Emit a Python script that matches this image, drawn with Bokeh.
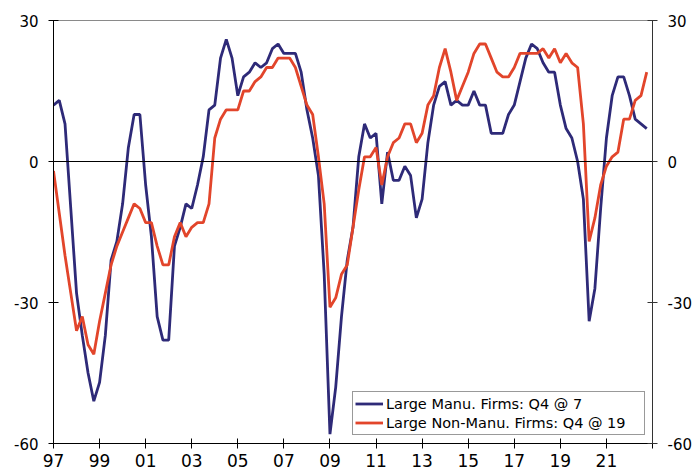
from bokeh.plotting import figure
from bokeh.models import LinearAxis, FixedTicker, Span, Legend, LegendItem, Range1d
from bokeh.embed import file_html
from bokeh.resources import INLINE

# ---- data: Tankan business conditions DI, quarterly (Q1..Q4 per year) ----
start_year = 1997
manu = [
    12, 13, 8, -10,      # 1997
    -28, -37, -45, -51,  # 1998
    -47, -37, -21, -17,  # 1999
    -9, 3, 10, 10,       # 2000
    -5, -16, -33, -38,   # 2001
    -38, -18, -14, -9,   # 2002
    -10, -5, 1, 11,      # 2003
    12, 22, 26, 22,      # 2004
    14, 18, 19, 21,      # 2005
    20, 21, 24, 25,      # 2006
    23, 23, 23, 19,      # 2007
    11, 5, -3, -24,      # 2008
    -58, -48, -33, -21,  # 2009
    -14, 1, 8, 5,        # 2010
    6, -9, 2, -4,        # 2011
    -4, -1, -3, -12,     # 2012
    -8, 4, 12, 16,       # 2013
    17, 12, 13, 12,      # 2014
    12, 15, 12, 12,      # 2015
    6, 6, 6, 10,         # 2016
    12, 17, 22, 25,      # 2017
    24, 21, 19, 19,      # 2018
    12, 7, 5, 0,         # 2019
    -8, -34, -27, -10,   # 2020
    5, 14, 18, 18,       # 2021
    14, 9, 8, 7,         # 2022
]
nonmanu = [
    -2, -11, -20, -28,   # 1997
    -36, -33, -39, -41,  # 1998
    -34, -28, -22, -18,  # 1999
    -15, -12, -9, -10,   # 2000
    -13, -13, -18, -22,  # 2001
    -22, -16, -13, -16,  # 2002
    -14, -13, -13, -9,   # 2003
    5, 9, 11, 11,        # 2004
    11, 15, 15, 17,      # 2005
    18, 20, 20, 22,      # 2006
    22, 22, 20, 16,      # 2007
    12, 10, 1, -9,       # 2008
    -31, -29, -24, -22,  # 2009
    -14, -6, 1, 1,       # 2010
    3, -5, 1, 4,         # 2011
    5, 8, 8, 4,          # 2012
    6, 12, 14, 20,       # 2013
    24, 19, 13, 16,      # 2014
    19, 23, 25, 25,      # 2015
    22, 19, 18, 18,      # 2016
    20, 23, 23, 23,      # 2017
    23, 24, 22, 24,      # 2018
    21, 23, 21, 20,      # 2019
    8, -17, -12, -5,     # 2020
    -1, 1, 2, 9,         # 2021
    9, 13, 14, 19,       # 2022
]
x_tick_years = [1997, 1999, 2001, 2003, 2005, 2007, 2009, 2011, 2013, 2015, 2017, 2019, 2021, 2023]
x_tick_labels = ["97", "99", "01", "03", "05", "07", "09", "11", "13", "15", "17", "19", "21", ""]
y_ticks = [-60, -30, 0, 30]
y_tick_labels = ["-60", "-30", "0", "30"]

quarters = [start_year + i / 4 for i in range(len(manu))]

BLUE = "#2E2A78"
RED = "#E2452B"
FONT = "DejaVu Sans"

p = figure(width=694, height=471,
           x_range=Range1d(1997, 2023), y_range=Range1d(-60, 30),
           output_backend="svg", toolbar_location=None,
           min_border_left=53, min_border_top=20, min_border_right=41, min_border_bottom=28)
p.xgrid.visible = False
p.ygrid.visible = False
p.outline_line_color = "#8a8a8a"
p.outline_line_width = 1
p.background_fill_color = "white"
p.border_fill_color = "white"

# zero line
p.add_layout(Span(location=0, dimension="width", line_color="black", line_width=1))

r1 = p.line(quarters, manu, line_color=BLUE, line_width=2.8)
r2 = p.line(quarters, nonmanu, line_color=RED, line_width=2.8)

# axes styling
xa = p.xaxis[0]
xa.ticker = FixedTicker(ticks=x_tick_years)
xa.major_label_overrides = {float(t): lab for t, lab in zip(x_tick_years, x_tick_labels)}
xa.major_tick_in = 5
xa.major_tick_out = 5
xa.minor_tick_in = 0
xa.minor_tick_out = 0
xa.major_label_standoff = 5
xa.major_label_text_font = FONT
xa.major_label_text_font_size = "17px"
xa.major_label_text_color = "black"
xa.axis_line_color = "black"
xa.major_tick_line_color = "black"

y_overrides = {float(t): lab for t, lab in zip(y_ticks, y_tick_labels)}

ya = p.yaxis[0]
ya.ticker = FixedTicker(ticks=y_ticks)
ya.major_label_overrides = y_overrides
ya.major_tick_in = 5
ya.major_tick_out = 5
ya.minor_tick_in = 0
ya.minor_tick_out = 0
ya.major_label_standoff = 10
ya.major_label_text_font = FONT
ya.major_label_text_font_size = "15px"
ya.major_label_text_color = "black"
ya.axis_line_color = "black"

yr = LinearAxis(ticker=FixedTicker(ticks=y_ticks))
yr.major_label_overrides = y_overrides
yr.major_tick_in = 5
yr.major_tick_out = 5
yr.minor_tick_in = 0
yr.minor_tick_out = 0
yr.major_label_standoff = 10
yr.major_label_text_font = FONT
yr.major_label_text_font_size = "15px"
yr.major_label_text_color = "black"
yr.axis_line_color = "#333333"
yr.major_tick_line_color = "#333333"
p.add_layout(yr, "right")

legend = Legend(items=[
    LegendItem(label=f"Large Manu. Firms: Q4 @ {manu[-1]}", renderers=[r1]),
    LegendItem(label=f"Large Non-Manu. Firms: Q4 @ {nonmanu[-1]}", renderers=[r2]),
], location=(299, 8), padding=2, spacing=0, margin=0,
    glyph_width=28, glyph_height=19, label_height=19, label_standoff=3, label_width=256,
    border_line_color="#333333", border_line_width=1,
    background_fill_color="white", background_fill_alpha=1,
    label_text_font=FONT, label_text_font_size="14.5px", label_text_color="black")
p.add_layout(legend)

open("out.html", "w").write(file_html(p, INLINE))
